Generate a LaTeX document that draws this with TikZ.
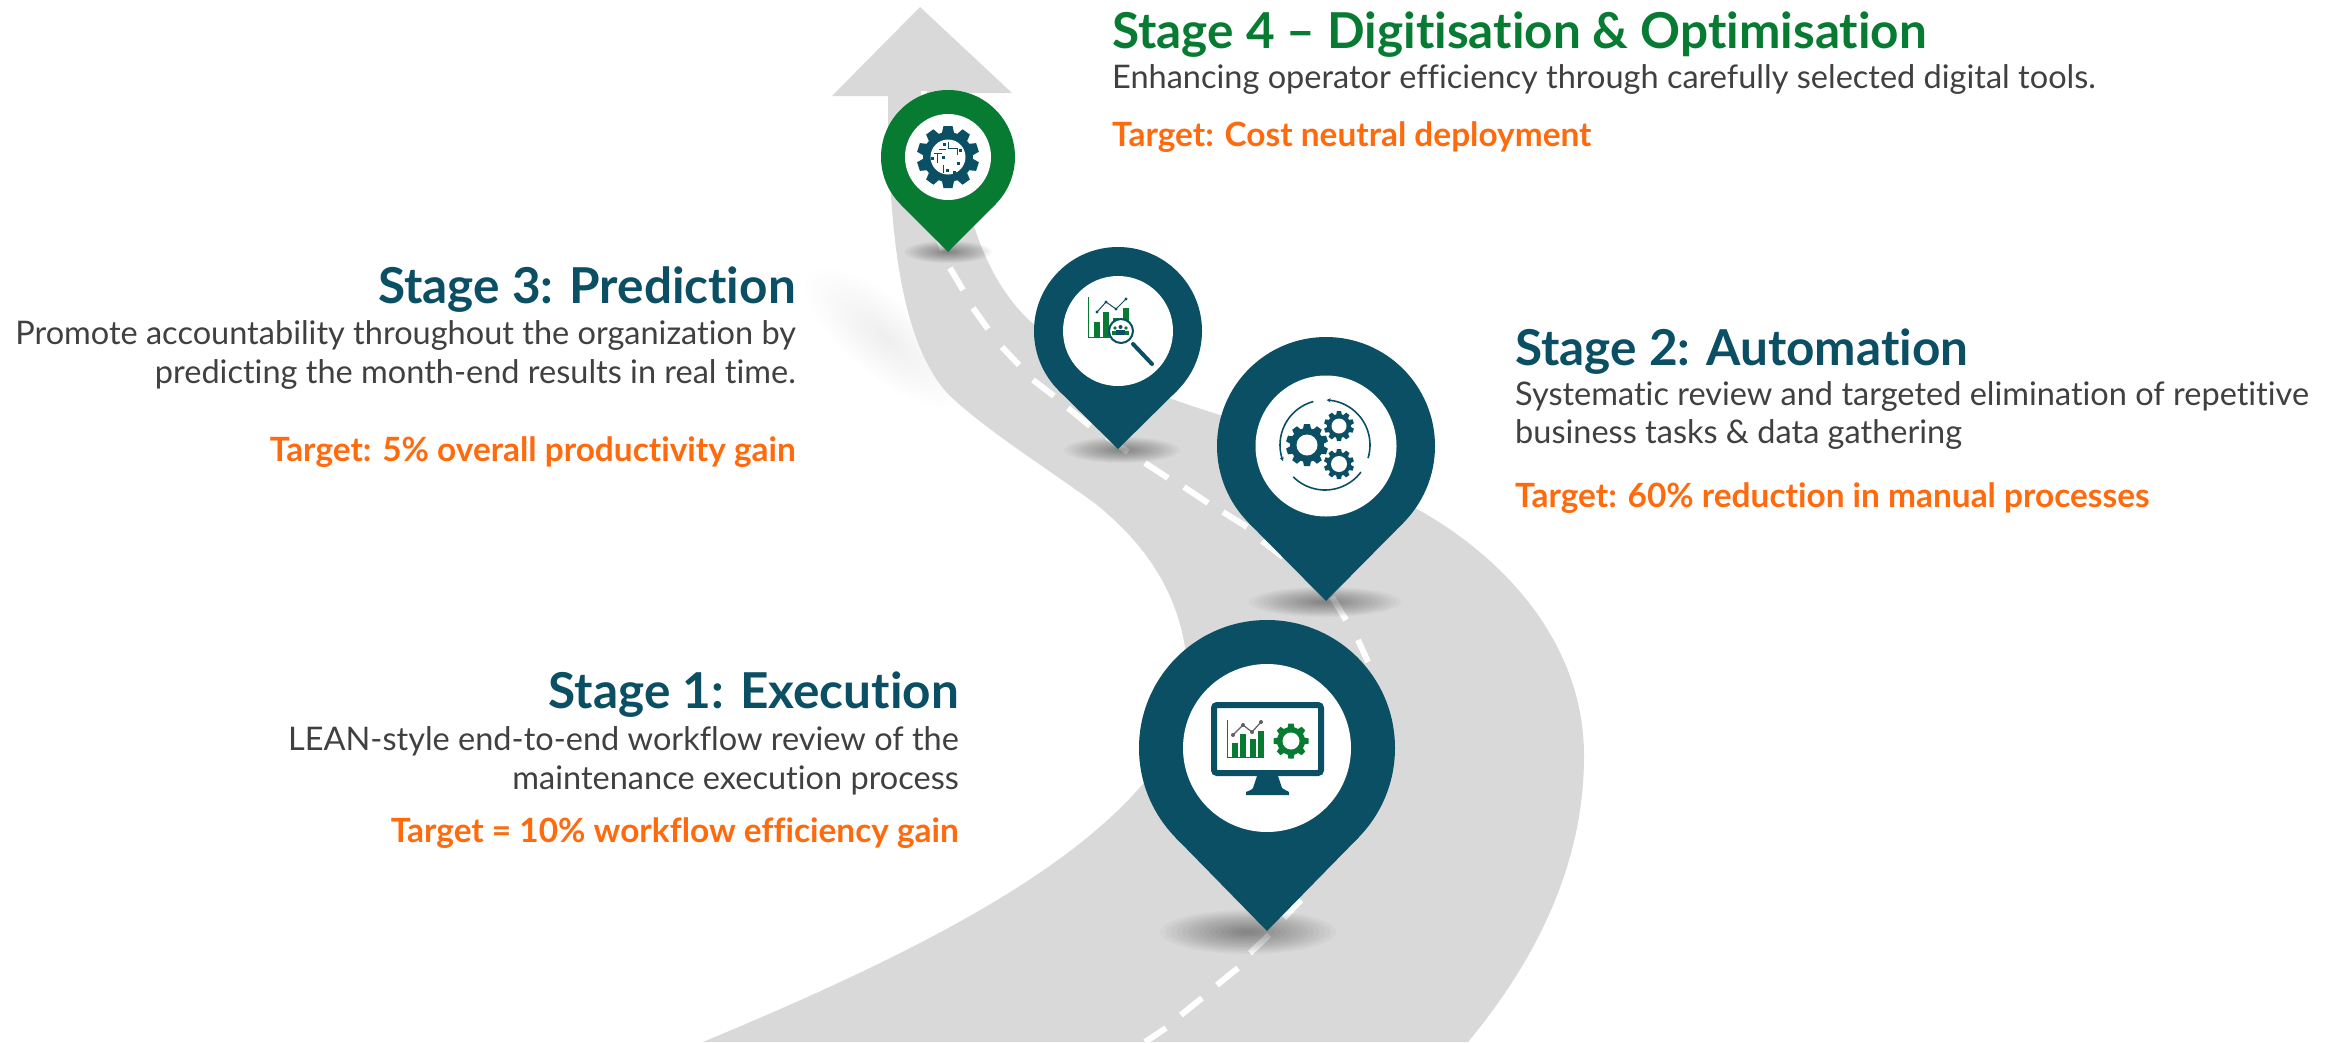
\documentclass[tikz,border=0pt]{standalone}
\usepackage{fontspec}
\setmainfont{Lato}[Ligatures=NoCommon]
\usetikzlibrary{arrows.meta}
\definecolor{road}{HTML}{D9D9D9}
\definecolor{teal}{HTML}{0A4F63}
\definecolor{dgreen}{HTML}{087B33}
\definecolor{orng}{HTML}{FF6A0D}
\definecolor{body}{HTML}{404040}
\definecolor{lgrey}{HTML}{606060}
\tikzset{
  x=1pt,y=-1pt,
  headT/.style={font=\fontsize{49.5}{58}\selectfont\bfseries,inner sep=0pt},
  bodyT/.style={font=\fontsize{32.5}{38}\selectfont,text=body,inner sep=0pt},
  targT/.style={font=\fontsize{33.4}{38}\selectfont\bfseries,text=orng,inner sep=0pt},
  dashmark/.style={white,line width=6pt},
}
% pin: cx cy r inner tipy colour
\newcommand\mypin[6]{%
  \pgfmathsetmacro\pd{#5-#2}%
  \pgfmathsetmacro\pa{asin(#3/\pd)}%
  \pgfmathsetmacro\pl{\pd*cos(\pa)}%
  \pgfmathsetmacro\pdx{\pl*sin(\pa)}%
  \pgfmathsetmacro\pdy{\pl*cos(\pa)}%
  \fill[#6] (#1,#2) circle[radius=#3pt];
  \fill[#6] (#1,#5) -- ({#1-\pdx},{#5-\pdy}) -- (#1,#2) -- ({#1+\pdx},{#5-\pdy}) -- cycle;
  \fill[white] (#1,#2) circle[radius=#4pt];
}
% soft shadow: cx cy rx ry opacity angle
\newcommand\softshadow[6]{%
  \foreach \k in {1,...,16}{%
    \pgfmathsetmacro\rxx{#3*(17-\k)/16}%
    \pgfmathsetmacro\ryy{#4*(17-\k)/16}%
    \fill[black,opacity=#5,shift={(#1,#2)},rotate=#6] (0,0) ellipse[x radius=\rxx pt,y radius=\ryy pt];
  }%
}
% gear: cx cy outer body hole teeth toothhalfwidth colour
\newcommand\mygear[8]{%
  \fill[#8] (#1,#2) circle[radius=#4pt];
  \pgfmathsetmacro\gst{360/#6}%
  \foreach \t in {1,...,#6}{%
    \pgfmathsetmacro\ga{\t*\gst}%
    \fill[#8,shift={(#1,#2)},rotate=\ga] (-#7,-#3) -- (#7,-#3) -- ({#7*1.35},{-#4+1}) -- ({-#7*1.35},{-#4+1}) -- cycle;
  }%
  \fill[white] (#1,#2) circle[radius=#5pt];
}
% polar arc line
\newcommand\polararc[5]{%
  \draw[teal,line width=1.6pt,#5] plot[smooth,domain=#3:#4,samples=24] ({#1+#2*cos(\x)},{445-#2*sin(\x)});
}
\begin{document}
\begin{tikzpicture}
\useasboundingbox (0,0) rectangle (2338,1042);
\fill[white] (0,0) rectangle (2338,1042);
\begin{scope}
\clip (0,0) rectangle (2338,1042);
% shadow beside the road
\softshadow{885}{338}{100}{38}{0.005}{-40}
% road
\fill[road] (832,96) -- (920,7) -- (1012,93) -- (954,93)
  .. controls (956,200) and (985,285) .. (1037,327)
  .. controls (1080,365) and (1140,390) .. (1220,415)
  .. controls (1290,438) and (1360,475) .. (1417,509)
  .. controls (1500,555) and (1584,640) .. (1584,756)
  .. controls (1584,860) and (1540,955) .. (1468,1042)
  -- (703,1042)
  .. controls (900,960) and (1060,880) .. (1142,785)
  .. controls (1180,740) and (1195,695) .. (1185,647)
  .. controls (1175,585) and (1140,540) .. (1097,505)
  .. controls (1050,470) and (985,430) .. (947,393)
  .. controls (905,345) and (888,250) .. (888,96)
  -- cycle;
% centre line
\foreach \xa/\ya/\xb/\yb in {1145/1042/1166/1028,1181/1015/1202/998,1217/985/1238/968,1250/953/1269/935,1284/918/1301/900,1358/640/1368/662,1332/597/1346/620,1262/541/1283/557,1223/512/1247/527,1184/487/1208/503,1145/463/1168/478,1107/437/1128/452,1068/408/1090/426,1033/380/1054/396,1002/347/1019/365,973/308/988/329,950/268/963/290,934/225/943/250,924/91/924/115}{
  \draw[dashmark] (\xa,\ya) -- (\xb,\yb);
}
% pin shadows
\softshadow{1248}{932}{88}{22}{0.026}{0}
\softshadow{1325}{602}{76}{15}{0.026}{0}
\softshadow{1122}{450}{58}{13}{0.026}{0}
\softshadow{948}{252}{44}{11}{0.026}{0}
\end{scope}
% pins
\mypin{948}{157}{67}{43}{252}{dgreen}
\mypin{1118}{331}{84}{55}{449}{teal}
\mypin{1326}{446}{109}{70.5}{601}{teal}
\mypin{1267}{748}{128}{84}{931}{teal}
% icon, pin 1: monitor
\fill[teal] (1257,776) -- (1278,776) -- (1282,788) .. controls (1284,790) and (1288,791) .. (1289,792) -- (1289,795) -- (1246,795) -- (1246,792) .. controls (1248,791) and (1252,790) .. (1253,788) -- cycle;
\draw[teal,line width=6pt,rounded corners=3pt,fill=white] (1214,705) rectangle (1321,773);
\draw[dgreen,line width=1pt] (1227,720) -- (1227,757) -- (1264,757);
\foreach \bx/\bt in {1232/743,1240/734,1250/739,1258/731}{\fill[dgreen] (\bx,757) rectangle ({\bx+5.5},\bt);}
\draw[lgrey,line width=1.2pt] (1233,735) -- (1243,725) -- (1252,732) -- (1261,722);
\foreach \dx/\dy in {1233/735,1243/725,1252/732,1261/722}{\fill[lgrey] (\dx,\dy) circle[radius=2pt];}
\mygear{1291}{741}{17.5}{14}{8.5}{8}{2.6}{dgreen}
% icon, pin 2: gears
\mygear{1307}{445}{21}{17}{10.5}{10}{3}{teal}
\mygear{1339}{426}{15}{12}{7.5}{10}{2.1}{teal}
\mygear{1339}{464}{15}{12}{8}{10}{2.1}{teal}
\polararc{1325}{45}{105}{201}{-{Stealth[length=4pt,width=4pt]}}
\polararc{1325}{45}{-17}{88}{-{Stealth[length=4pt,width=4pt]}}
\polararc{1325}{45}{225}{323}{}
% icon, pin 3: chart and lens
\draw[dgreen,line width=1pt] (1088,297) -- (1088,337) -- (1129,337);
\foreach \bx/\bt in {1094/322,1103/312,1113/318,1123/308}{\fill[dgreen] (\bx,337) rectangle ({\bx+5.5},\bt);}
\draw[teal,line width=1pt] (1097,312) -- (1106,302) -- (1116,309) -- (1126,299);
\foreach \dx/\dy in {1097/312,1106/302,1116/309,1126/299}{\fill[teal] (\dx,\dy) circle[radius=1.6pt];}
\draw[teal,line width=4pt,line cap=round] (1133,344) -- (1152,364);
\draw[teal,line width=2pt,fill=white] (1121,331) circle[radius=12pt];
\foreach \hx/\hy in {1115/328,1126/328}{\fill[dgreen] (\hx,\hy) circle[radius=1.8pt];
  \fill[dgreen] ({\hx-3},334.5) rectangle ({\hx+3},\hy+2.5);}
\fill[teal] (1120.5,327) circle[radius=2pt];
\fill[teal] (1116,335) rectangle (1125,329.5);
% icon, pin 4: circuit gear
\mygear{948}{157}{31}{25}{17.5}{10}{4.5}{teal}
\foreach \sx/\sy in {944/144,960/150,943/157,932/158,947/170,954/172,958/163}{\fill[teal] (\sx-1.5,\sy-1.5) rectangle (\sx+1.5,\sy+1.5);}
\draw[teal,line width=.7pt] (948,142) -- (948,148) -- (957,148) -- (957,155);
\draw[teal,line width=.7pt] (934,153) -- (942,153);
\draw[teal,line width=.7pt] (937,153) -- (937,163);
\draw[teal,line width=.7pt] (943,165) -- (943,173);
\draw[teal,line width=.7pt] (939,149) -- (946,149);
% texts
\node[headT,text=dgreen,anchor=base west] (t4) at (1112,48) {Stage 4 – Digitisation \& Optimisation};
\node[bodyT,anchor=base west] (d4) at (1112,88) {Enhancing operator efficiency through carefully selected digital tools.};
\node[targT,anchor=base west] (g4) at (1112,146) {Target: Cost neutral deployment};
\node[headT,text=teal,anchor=base east] (t3) at (796,303) {Stage 3: Prediction};
\node[bodyT,anchor=base east] (d3a) at (796,344) {Promote accountability throughout the organization by};
\node[bodyT,anchor=base east] (d3b) at (796,383) {predicting the month-end results in real time.};
\node[targT,anchor=base east] (g3) at (796,461) {Target: 5\% overall productivity gain};
\node[headT,text=teal,anchor=base west] (t2) at (1515,365) {Stage 2: Automation};
\node[bodyT,anchor=base west] (d2a) at (1515,405) {Systematic review and targeted elimination of repetitive};
\node[bodyT,anchor=base west] (d2b) at (1515,443) {business tasks \& data gathering};
\node[targT,anchor=base west] (g2) at (1515,507) {Target: 60\% reduction in manual processes};
\node[headT,text=teal,anchor=base east] (t1) at (959,708) {Stage 1: Execution};
\node[bodyT,anchor=base east] (d1a) at (959,750) {LEAN-style end-to-end workflow review of the};
\node[bodyT,anchor=base east] (d1b) at (959,789) {maintenance execution process};
\node[targT,anchor=base east] (g1) at (959,842) {Target = 10\% workflow efficiency gain};
\end{tikzpicture}
\end{document}
